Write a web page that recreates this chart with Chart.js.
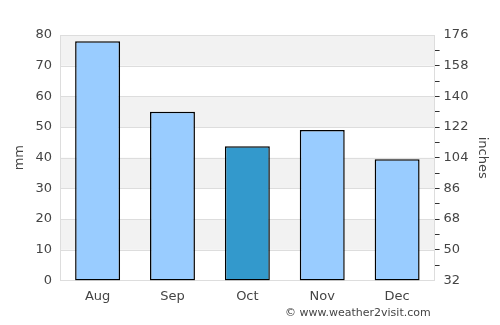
<!DOCTYPE html>
<html>
<head>
<meta charset="utf-8">
<script src="https://cdn.jsdelivr.net/npm/chart.js@4/dist/chart.umd.min.js"></script>
<style>
html,body{margin:0;padding:0;background:#fff;}
#wrap{position:relative;width:500px;height:325px;}
#credit{position:absolute;left:285px;top:306px;font:11px "DejaVu Sans",sans-serif;color:#444;white-space:nowrap;}
</style>
</head>
<body>
<div id="wrap"><canvas id="c" width="500" height="325"></canvas><div id="credit">© www.weather2visit.com</div></div>
<script>
const months = ["Aug", "Sep", "Oct", "Nov", "Dec"];
const rainfallMm = [78, 55, 43.7, 49, 39.5];
const barColors = ["#99ccff", "#99ccff", "#3399cc", "#99ccff", "#99ccff"];
const leftTicks = [0, 10, 20, 30, 40, 50, 60, 70, 80];
const rightTicks = [32, 50, 68, 86, 104, 122, 140, 158, 176];
const grayBands = [[10, 20], [30, 40], [50, 60], [70, 80]];

const bandPlugin = {
  id: 'bands',
  beforeDatasetsDraw(chart) {
    const {ctx, chartArea, scales} = chart;
    const y = scales.y;
    ctx.save();
    ctx.fillStyle = '#f2f2f2';
    grayBands.forEach(([a, b]) => {
      const y1 = y.getPixelForValue(b), y0 = y.getPixelForValue(a);
      ctx.fillRect(chartArea.left, y1, chartArea.right - chartArea.left, y0 - y1);
    });
    ctx.strokeStyle = '#dddddd';
    ctx.lineWidth = 1;
    leftTicks.forEach(v => {
      const p = Math.round(y.getPixelForValue(v)) + 0.5;
      ctx.beginPath(); ctx.moveTo(chartArea.left, p); ctx.lineTo(chartArea.right, p); ctx.stroke();
    });
    ctx.beginPath();
    ctx.moveTo(Math.round(chartArea.left) + 0.5, chartArea.top); ctx.lineTo(Math.round(chartArea.left) + 0.5, chartArea.bottom);
    ctx.moveTo(Math.round(chartArea.right) - 0.5, chartArea.top); ctx.lineTo(Math.round(chartArea.right) - 0.5, chartArea.bottom);
    ctx.stroke();
    ctx.restore();
  }
};

new Chart(document.getElementById('c'), {
  type: 'bar',
  data: {
    labels: months,
    datasets: [{
      data: rainfallMm,
      backgroundColor: barColors,
      borderColor: '#000',
      borderWidth: 1.5,
      borderSkipped: false,
      barPercentage: 0.6,
      categoryPercentage: 1.0,
      yAxisID: 'y'
    }]
  },
  options: {
    responsive: false,
    animation: false,
    devicePixelRatio: 1,
    layout: {padding: {left: 4, right: 9, top: 35, bottom: 13}},
    plugins: {legend: {display: false}, tooltip: {enabled: false}},
    scales: {
      x: {
        grid: {display: false, drawTicks: false},
        border: {display: true, color: '#dddddd'},
        ticks: {color: '#444', font: {family: 'DejaVu Sans', size: 13}, padding: 8}
      },
      y: {
        position: 'left',
        min: 0, max: 80,
        afterBuildTicks: s => { s.ticks = leftTicks.map(v => ({value: v})); },
        grid: {display: false, drawTicks: false},
        border: {display: false},
        ticks: {color: '#444', font: {family: 'DejaVu Sans', size: 13}, padding: 8},
        title: {display: true, text: 'mm', color: '#444', font: {family: 'DejaVu Sans', size: 13}, padding: {top: 8, bottom: 0}}
      },
      y2: {
        position: 'right',
        min: 32, max: 176,
        afterBuildTicks: s => {
          const t = [];
          for (let i = 0; i < rightTicks.length; i++) {
            t.push({value: rightTicks[i]});
            if (i < rightTicks.length - 1) t.push({value: (rightTicks[i] + rightTicks[i + 1]) / 2});
          }
          s.ticks = t;
        },
        grid: {drawOnChartArea: false, drawTicks: true, tickLength: 5, color: ctx => (ctx.tick && (ctx.tick.value === 32 || ctx.tick.value === 176)) ? 'rgba(0,0,0,0)' : '#333', lineWidth: 1},
        border: {display: false},
        ticks: {
          color: '#444', font: {family: 'DejaVu Sans', size: 13}, padding: 4, autoSkip: false,
          callback: v => rightTicks.includes(v) ? String(v) : ''
        },
        title: {display: true, text: 'inches', color: '#444', font: {family: 'DejaVu Sans', size: 13}, padding: {top: 1, bottom: 2}}
      }
    }
  },
  plugins: [bandPlugin]
});
</script>
</body>
</html>
